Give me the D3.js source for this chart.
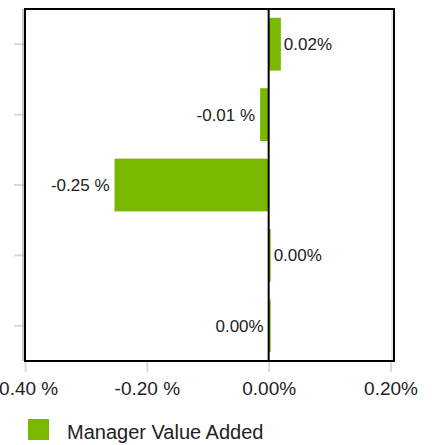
<!DOCTYPE html>
<html>
<head>
<meta charset="utf-8">
<script src="https://cdn.jsdelivr.net/npm/d3@7"></script>
<style>
  html, body { margin: 0; padding: 0; background: #fff; }
  svg { display: block; font-family: "Liberation Sans", Arial, sans-serif; }
</style>
</head>
<body>
<svg id="chart" width="433" height="445"></svg>
<script>
// Manager value added, by segment (percent points)
const categories = ["1", "2", "3", "4", "5"];
const values = [0.020, -0.014, -0.253, 0.003, -0.001];
const xTicks = [-0.40, -0.20, 0.00, 0.20];
const seriesName = "Manager Value Added";

const svg = d3.select("#chart");
const plot = { left: 24, right: 394, top: 9, bottom: 361 };
const green = "#7ab800";
const ink = "#222222";
const minBar = 2; // minimum drawn bar length in px

const x = d3.scaleLinear().domain([-0.40, 0.20]).range([25, 390.5]);
const y = d3.scaleBand().domain(categories)
  .range([plot.top, plot.bottom]).paddingInner(0.25).paddingOuter(0.125);

// percent labels: negatives carry a space before the sign
function fmt(v) {
  const r = +v.toFixed(2);
  const s = (r === 0 ? 0 : r).toFixed(2);
  return r < 0 ? s + " %" : s + "%";
}

// category ticks on the left, one per band centre
const yAxis = d3.axisLeft(y).tickSize(10).tickFormat("");
svg.append("g")
  .attr("transform", `translate(${plot.left},0)`)
  .call(yAxis)
  .call(g => g.select(".domain").remove())
  .call(g => g.selectAll(".tick line")
    .attr("stroke", "#d9d9d9").attr("stroke-width", 2));

// value axis ticks and labels below the frame
const xAxis = d3.axisBottom(x).tickValues(xTicks).tickSize(11).tickPadding(10)
  .tickFormat(fmt);
svg.append("g")
  .attr("transform", `translate(0,${plot.bottom})`)
  .call(xAxis)
  .call(g => g.select(".domain").remove())
  .call(g => g.selectAll(".tick line").attr("stroke", "#d9d9d9").attr("stroke-width", 2))
  .call(g => g.selectAll(".tick text")
    .attr("fill", ink).attr("font-size", 19)
    .attr("font-family", "'Liberation Sans', Arial, sans-serif"));

// light axis line along the left edge and grid line at the right
svg.append("line").attr("x1", 23).attr("x2", 23)
  .attr("y1", plot.top).attr("y2", plot.bottom)
  .attr("stroke", "#9a9a9a").attr("stroke-width", 1);
svg.append("line").attr("x1", x(0.20) + 1.5).attr("x2", x(0.20) + 1.5)
  .attr("y1", plot.top).attr("y2", plot.bottom)
  .attr("stroke", "#d0d0d0").attr("stroke-width", 1);

// bars
const bars = categories.map((c, i) => {
  const v = values[i];
  let x0 = x(Math.min(0, v));
  let w = Math.abs(x(v) - x(0));
  if (w < minBar) { x0 = x(0); w = minBar; }
  return { c, v, x0, w };
});

svg.append("g").selectAll("rect").data(bars).join("rect")
  .attr("x", d => d.x0)
  .attr("y", d => y(d.c))
  .attr("width", d => d.w)
  .attr("height", y.bandwidth())
  .attr("fill", green);

// zero line
svg.append("line")
  .attr("x1", x(0)).attr("x2", x(0))
  .attr("y1", plot.top).attr("y2", plot.bottom)
  .attr("stroke", "#000").attr("stroke-width", 2);

// value labels
svg.append("g").selectAll("text").data(bars).join("text")
  .attr("x", d => d.v < 0 ? d.x0 - 5 : d.x0 + d.w + 3)
  .attr("y", d => y(d.c) + y.bandwidth() / 2 + 6)
  .attr("text-anchor", d => d.v < 0 ? "end" : "start")
  .attr("font-size", 17)
  .attr("fill", ink)
  .text(d => fmt(d.v));

// plot frame
svg.append("rect")
  .attr("x", plot.left + 1).attr("y", plot.top)
  .attr("width", plot.right - plot.left - 1).attr("height", plot.bottom - plot.top)
  .attr("fill", "none").attr("stroke", "#000").attr("stroke-width", 2);

// legend
const legend = svg.append("g").attr("transform", "translate(28,419)");
legend.append("rect").attr("width", 21).attr("height", 21).attr("fill", green);
legend.append("text").attr("x", 39).attr("y", 20)
  .attr("font-size", 20).attr("fill", ink).text(seriesName);
</script>
</body>
</html>
